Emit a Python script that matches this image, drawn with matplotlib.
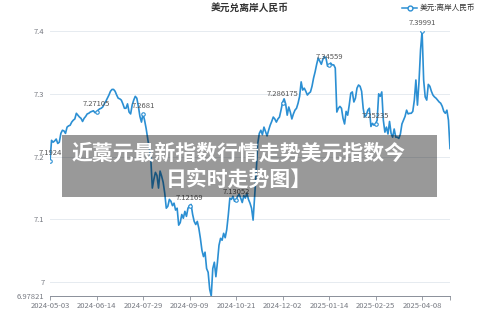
import matplotlib
matplotlib.use("Agg")
import matplotlib.pyplot as plt
from matplotlib.patches import Rectangle

plt.rcParams['font.family'] = ['Noto Sans CJK SC', 'DejaVu Sans']

# USD / offshore CNH, one value per trading day
rates = [
    7.1924, 7.226, 7.223, 7.225, 7.228, 7.221, 7.223, 7.237, 7.242, 7.241,
    7.237, 7.247, 7.249, 7.250, 7.255, 7.258, 7.260, 7.269, 7.266, 7.263,
    7.261, 7.256, 7.261, 7.264, 7.268, 7.269, 7.271, 7.272, 7.273, 7.270,
    7.27105, 7.274, 7.276, 7.277, 7.279, 7.284, 7.288, 7.293, 7.298, 7.304,
    7.307, 7.307, 7.304, 7.298, 7.293, 7.292, 7.290, 7.284, 7.277, 7.277,
    7.284, 7.271, 7.268, 7.282, 7.290, 7.296, 7.293, 7.280, 7.264, 7.255,
    7.2681, 7.258, 7.245, 7.229, 7.213, 7.197, 7.150, 7.164, 7.175, 7.170,
    7.150, 7.177, 7.169, 7.159, 7.142, 7.118, 7.121, 7.132, 7.129, 7.122,
    7.126, 7.115, 7.118, 7.091, 7.095, 7.108, 7.102, 7.113, 7.105, 7.118,
    7.12169, 7.124, 7.108, 7.097, 7.092, 7.097, 7.086, 7.070, 7.051, 7.041,
    7.048, 7.022, 7.016, 6.989, 6.97821, 7.022, 7.032, 7.009, 7.032, 7.059,
    7.070, 7.067, 7.078, 7.071, 7.084, 7.107, 7.134, 7.132, 7.137, 7.129,
    7.13052, 7.137, 7.140, 7.134, 7.127, 7.138, 7.134, 7.142, 7.132, 7.126,
    7.118, 7.099, 7.137, 7.175, 7.221, 7.237, 7.242, 7.235, 7.247, 7.240,
    7.233, 7.242, 7.250, 7.256, 7.263, 7.260, 7.255, 7.260, 7.263, 7.274,
    7.286175, 7.292, 7.284, 7.266, 7.279, 7.271, 7.260, 7.268, 7.274, 7.277,
    7.285, 7.296, 7.319, 7.306, 7.309, 7.304, 7.298, 7.301, 7.303, 7.312,
    7.325, 7.335, 7.347, 7.357, 7.352, 7.347, 7.355, 7.359, 7.357, 7.344,
    7.34559, 7.349, 7.346, 7.346, 7.341, 7.271, 7.277, 7.280, 7.277, 7.261,
    7.252, 7.272, 7.266, 7.282, 7.301, 7.303, 7.287, 7.293, 7.309, 7.314,
    7.312, 7.304, 7.277, 7.263, 7.266, 7.274, 7.277, 7.248, 7.253, 7.250,
    7.25235, 7.258, 7.300, 7.296, 7.303, 7.258, 7.239, 7.247, 7.236, 7.256,
    7.237, 7.231, 7.244, 7.231, 7.231, 7.229, 7.236, 7.252, 7.258, 7.264,
    7.274, 7.268, 7.269, 7.269, 7.272, 7.290, 7.322, 7.282, 7.319, 7.370,
    7.39991, 7.322, 7.295, 7.290, 7.315, 7.312, 7.304, 7.298, 7.295, 7.293,
    7.290, 7.287, 7.285, 7.280, 7.272, 7.269, 7.274, 7.258, 7.213,
]
date_labels = ["2024-05-03", "2024-06-14", "2024-07-29", "2024-09-09", "2024-10-21",
               "2024-12-02", "2025-01-14", "2025-02-25", "2025-04-08"]
label_step = 30
y_ticks = [6.97821, 7.0, 7.1, 7.2, 7.3, 7.4]
y_tick_labels = ["6.97821", "7", "7.1", "7.2", "7.3", "7.4"]

title = "美元兑离岸人民币"
series_name = "美元:离岸人民币"
banner = "近藁元最新指数行情走势美元指数今\n日实时走势图】"

line_color = "#2b8fd3"
axis_color = "#8a8f99"
text_color = "#777a82"

fig = plt.figure(figsize=(5, 3.33), dpi=100)
ax = fig.add_axes([0.1, 0.111, 0.8, 0.796])

x = list(range(len(rates)))
ax.plot(x, rates, color=line_color, lw=1.2, zorder=3)

# value labels at every labelled tick
lab_idx = [i * label_step for i in range(len(date_labels))]
ax.plot(lab_idx, [rates[i] for i in lab_idx], ls="none", marker="o", ms=2.5,
        mfc="white", mec=line_color, mew=0.8, zorder=4)
for i in lab_idx:
    txt = f"{rates[i]:.6f}".rstrip("0").rstrip(".")
    ax.annotate(txt, (i, rates[i]), xytext=(0, 3), textcoords="offset points",
                ha="center", va="bottom", fontsize=5.5, color="#555555", zorder=5)

ax.set_xlim(0, len(rates) - 1)
ax.set_ylim(y_ticks[0], y_ticks[-1])
ax.set_xticks(lab_idx + [len(rates) - 1])
ax.set_xticklabels(date_labels + [""])
ax.set_yticks(y_ticks)
ax.set_yticklabels(y_tick_labels)
ax.tick_params(axis="x", colors=axis_color, labelcolor=text_color, labelsize=5.5,
               length=3, width=0.6, pad=1.5)
ax.tick_params(axis="y", length=0, labelcolor=text_color, labelsize=5.5, pad=4)

for v in y_ticks[1:]:
    ax.axhline(v, color="#e6ebf0", lw=0.7, zorder=1)
for s in ["top", "right", "left"]:
    ax.spines[s].set_visible(False)
ax.spines["bottom"].set_color(axis_color)
ax.spines["bottom"].set_linewidth(0.7)

fig.text(0.5, 0.976, title, ha="center", va="center", fontsize=7, fontweight="bold",
         color="#333333")
fig.lines.append(plt.Line2D([0.804, 0.834], [0.977, 0.977], color=line_color, lw=1.1,
                            transform=fig.transFigure))
fig.lines.append(plt.Line2D([0.819], [0.977], ls="none", marker="o", ms=3.5, mfc="white",
                            mec=line_color, mew=1, transform=fig.transFigure))
fig.text(0.839, 0.977, series_name, ha="left", va="center", fontsize=5.5, color="#333333")

# grey banner laid over the chart
fig.patches.append(Rectangle((0.124, 0.408), 0.75, 0.187, transform=fig.transFigure,
                             facecolor="black", alpha=0.4, edgecolor="none", zorder=10))
fig.text(0.478, 0.5, banner, ha="center", va="center", fontsize=15, fontweight="heavy",
         color="white", linespacing=1.3, zorder=11)

fig.savefig("out.png", dpi=100)
